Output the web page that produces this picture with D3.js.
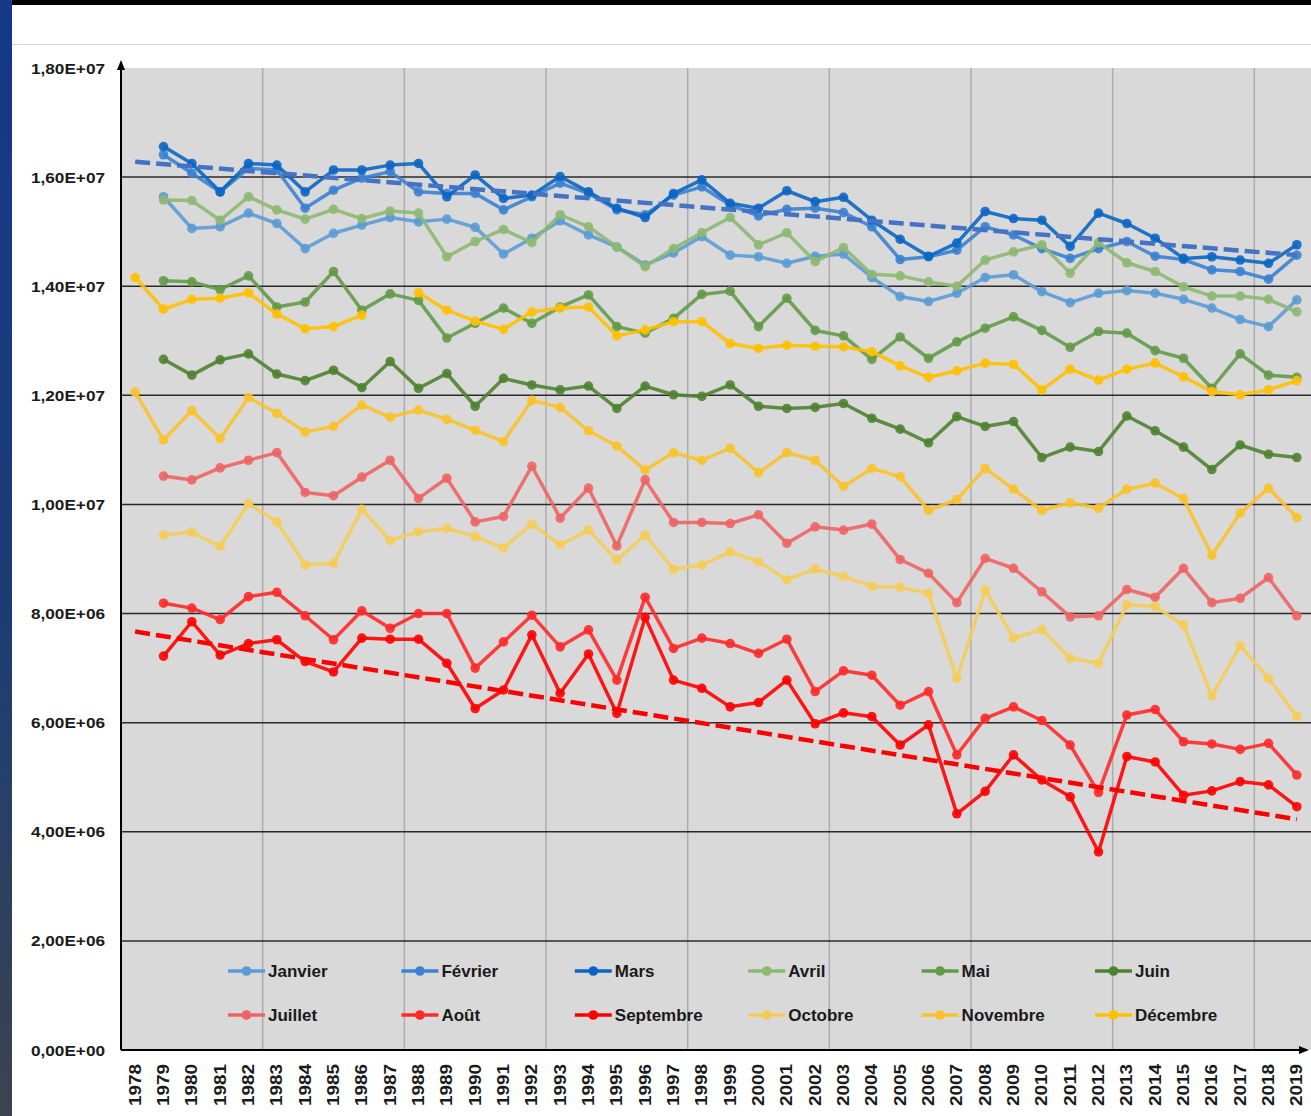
<!DOCTYPE html>
<html>
<head>
<meta charset="utf-8">
<title>Extension mensuelle</title>
<script src="https://d3js.org/d3.v7.min.js"></script>
<style>
  body { margin: 0; background: #fff; }
  svg { display: block; }
</style>
</head>
<body>
<script>
const width = 1311
const height = 1116
const plot = { left: 121, right: 1311, top: 68, bottom: 1050 }
const UNIT = 1e6

const years = ['1978','1979','1980','1981','1982','1983','1984','1985','1986','1987','1988',
  '1989','1990','1991','1992','1993','1994','1995','1996','1997','1998',
  '1999','2000','2001','2002','2003','2004','2005','2006','2007','2008',
  '2009','2010','2011','2012','2013','2014','2015','2016','2017','2018','2019']

const yTickValues = [0, 2e6, 4e6, 6e6, 8e6, 10e6, 12e6, 14e6, 16e6, 18e6]

const months = ['Janvier', 'Février', 'Mars', 'Avril', 'Mai', 'Juin',
  'Juillet', 'Août', 'Septembre', 'Octobre', 'Novembre', 'Décembre']
const colors = ['#5B9BD5', '#3A82D2', '#0B66C3', '#8DB872', '#639A48', '#4E8230',
  '#EE6464', '#FF2A2A', '#FF0000', '#F4CC55', '#F9C22A', '#FFC000']

// valeurs en millions, index 0 = 1978
const janvier = [null,
  15.64, 15.06, 15.09, 15.34, 15.15, 14.69, 14.97, 15.12, 15.26, 15.18,
  15.23, 15.08, 14.59, 14.88, 15.20, 14.94, 14.72, 14.39, 14.61, 14.91,
  14.57, 14.54, 14.42, 14.55, 14.59, 14.16, 13.81, 13.72, 13.87, 14.16,
  14.21, 13.90, 13.70, 13.87, 13.92, 13.87, 13.76, 13.60, 13.39, 13.26, 13.75]
const fevrier = [null,
  16.41, 16.07, 15.73, 16.16, 16.13, 15.43, 15.76, 15.98, 16.10, 15.73,
  15.70, 15.70, 15.40, 15.64, 15.89, 15.70, 15.40, 15.31, 15.67, 15.82,
  15.49, 15.29, 15.41, 15.43, 15.35, 15.09, 14.49, 14.54, 14.66, 15.09,
  14.94, 14.69, 14.51, 14.69, 14.82, 14.55, 14.49, 14.30, 14.27, 14.13, 14.57]
const mars = [null,
  16.56, 16.25, 15.73, 16.25, 16.22, 15.73, 16.13, 16.13, 16.22, 16.25,
  15.64, 16.04, 15.61, 15.67, 16.01, 15.73, 15.43, 15.26, 15.70, 15.95,
  15.52, 15.43, 15.75, 15.55, 15.63, 15.21, 14.86, 14.55, 14.79, 15.37,
  15.24, 15.21, 14.73, 15.34, 15.15, 14.88, 14.51, 14.54, 14.48, 14.42, 14.76]
const avril = [null,
  15.58, 15.57, 15.21, 15.64, 15.40, 15.23, 15.41, 15.24, 15.38, 15.34,
  14.54, 14.82, 15.04, 14.80, 15.31, 15.09, 14.72, 14.36, 14.69, 14.98,
  15.26, 14.76, 14.98, 14.45, 14.71, 14.22, 14.19, 14.08, 14.00, 14.48,
  14.63, 14.76, 14.24, 14.80, 14.43, 14.27, 13.99, 13.82, 13.82, 13.76, 13.53]
const mai = [null,
  14.10, 14.08, 13.94, 14.19, 13.62, 13.71, 14.27, 13.56, 13.86, 13.74,
  13.05, 13.32, 13.60, 13.32, 13.62, 13.84, 13.26, 13.14, 13.41, 13.85,
  13.91, 13.26, 13.78, 13.19, 13.09, 12.66, 13.07, 12.68, 12.98, 13.23,
  13.44, 13.19, 12.88, 13.17, 13.14, 12.82, 12.68, 12.13, 12.76, 12.37, 12.33]
const juin = [null,
  12.66, 12.37, 12.65, 12.76, 12.39, 12.27, 12.46, 12.14, 12.62, 12.13,
  12.40, 11.80, 12.31, 12.19, 12.10, 12.17, 11.76, 12.17, 12.01, 11.98,
  12.19, 11.80, 11.76, 11.78, 11.85, 11.58, 11.38, 11.13, 11.61, 11.43,
  11.52, 10.86, 11.05, 10.97, 11.62, 11.35, 11.05, 10.64, 11.09, 10.92, 10.86]
const juillet = [null,
  10.52, 10.45, 10.67, 10.81, 10.95, 10.22, 10.16, 10.50, 10.81, 10.11,
  10.48, 9.68, 9.78, 10.70, 9.75, 10.30, 9.24, 10.45, 9.67, 9.67,
  9.65, 9.81, 9.29, 9.59, 9.53, 9.64, 8.99, 8.74, 8.20, 9.01,
  8.83, 8.40, 7.94, 7.96, 8.44, 8.30, 8.83, 8.20, 8.28, 8.66, 7.96]
const aout = [null,
  8.19, 8.10, 7.89, 8.31, 8.39, 7.96, 7.52, 8.05, 7.73, 8.00,
  8.00, 7.00, 7.48, 7.97, 7.39, 7.70, 6.78, 8.30, 7.36, 7.55,
  7.45, 7.27, 7.53, 6.57, 6.95, 6.87, 6.32, 6.57, 5.41, 6.08,
  6.29, 6.04, 5.59, 4.72, 6.14, 6.24, 5.65, 5.61, 5.51, 5.62, 5.04]
const septembre = [null,
  7.22, 7.85, 7.24, 7.45, 7.52, 7.12, 6.93, 7.55, 7.53, 7.53,
  7.09, 6.26, 6.60, 7.61, 6.54, 7.26, 6.17, 7.93, 6.78, 6.63,
  6.29, 6.37, 6.78, 5.98, 6.18, 6.11, 5.59, 5.96, 4.33, 4.74,
  5.41, 4.95, 4.64, 3.63, 5.38, 5.28, 4.67, 4.75, 4.92, 4.86, 4.46]
const octobre = [null,
  9.44, 9.49, 9.23, 10.02, 9.68, 8.89, 8.92, 9.91, 9.34, 9.50,
  9.56, 9.41, 9.20, 9.64, 9.26, 9.53, 8.98, 9.44, 8.81, 8.89,
  9.13, 8.95, 8.62, 8.82, 8.68, 8.50, 8.48, 8.37, 6.81, 8.43,
  7.55, 7.71, 7.18, 7.09, 8.16, 8.13, 7.79, 6.49, 7.41, 6.81, 6.12]
const novembre = [12.06,
  11.18, 11.72, 11.21, 11.96, 11.67, 11.33, 11.43, 11.82, 11.60, 11.73,
  11.56, 11.36, 11.15, 11.91, 11.78, 11.35, 11.07, 10.63, 10.95, 10.81,
  11.03, 10.58, 10.95, 10.81, 10.33, 10.66, 10.51, 9.89, 10.09, 10.66,
  10.28, 9.89, 10.03, 9.93, 10.28, 10.39, 10.11, 9.07, 9.84, 10.30, 9.76]
const decembre = [14.16,
  13.58, 13.76, 13.78, 13.88, 13.49, 13.22, 13.26, 13.47, null, 13.88,
  13.56, 13.36, 13.21, 13.53, 13.60, 13.62, 13.09, 13.20, 13.35, 13.35,
  12.95, 12.86, 12.92, 12.90, 12.89, 12.80, 12.54, 12.33, 12.45, 12.59,
  12.57, 12.10, 12.48, 12.28, 12.48, 12.59, 12.34, 12.07, 12.01, 12.10, 12.27]

// tendances (1978 -> 2019)
const trendMars = [16.28, 14.57]
const trendSeptembre = [7.67, 4.23]

const series = [janvier, fevrier, mars, avril, mai, juin,
  juillet, aout, septembre, octobre, novembre, decembre]

const svg = d3.select('body')
  .append('svg')
  .attr('width', width)
  .attr('height', height)
  .style('font-family', '"Liberation Sans", Arial, sans-serif')

// fond de la diapo
const grad = svg.append('defs').append('linearGradient')
  .attr('id', 'side').attr('x1', 0).attr('y1', 0).attr('x2', 0).attr('y2', 1)
grad.append('stop').attr('offset', '0%').attr('stop-color', '#14398a')
grad.append('stop').attr('offset', '55%').attr('stop-color', '#1d3c74')
grad.append('stop').attr('offset', '100%').attr('stop-color', '#3b4350')
svg.append('rect').attr('width', width).attr('height', height).attr('fill', '#fff')
svg.append('rect').attr('width', width).attr('height', 5).attr('fill', '#000')
svg.append('rect').attr('width', 12).attr('height', height).attr('fill', 'url(#side)')
svg.append('line')
  .attr('x1', 12).attr('x2', width).attr('y1', 44.5).attr('y2', 44.5)
  .attr('stroke', '#d6d6d6')

const x = d3.scaleBand().domain(years).range([plot.left, plot.right])
const y = d3.scaleLinear().domain([0, 18e6]).range([plot.bottom, plot.top])
const cx = d => x(d) + x.bandwidth() / 2

// zone de tracé
svg.append('rect')
  .attr('x', plot.left).attr('y', plot.top)
  .attr('width', plot.right - plot.left).attr('height', plot.bottom - plot.top)
  .attr('fill', '#d9d9d9')

// quadrillage vertical, toutes les 5 années
svg.append('g').selectAll('line')
  .data(years.filter((d, i) => i > 0 && i % 5 === 0))
  .join('line')
  .attr('x1', d => x(d)).attr('x2', d => x(d))
  .attr('y1', plot.top).attr('y2', plot.bottom)
  .attr('stroke', '#acacac').attr('stroke-width', 1.5)

// quadrillage horizontal
svg.append('g').selectAll('line')
  .data(yTickValues.filter(d => d > 0 && d < 18e6))
  .join('line')
  .attr('x1', plot.left).attr('x2', plot.right)
  .attr('y1', d => y(d)).attr('y2', d => y(d))
  .attr('stroke', '#2a2a2a').attr('stroke-width', 1.5)

function sci(v) {
  if (v === 0) return '0,00E+00'
  const e = Math.floor(Math.log10(v))
  const m = v / Math.pow(10, e)
  return m.toFixed(2).replace('.', ',') + 'E+' + String(e).padStart(2, '0')
}

// étiquettes de l'axe y
svg.append('g').selectAll('text')
  .data(yTickValues)
  .join('text')
  .attr('x', 105).attr('y', d => y(d))
  .attr('text-anchor', 'end')
  .attr('dominant-baseline', 'central')
  .attr('font-size', 15).attr('font-weight', 'bold')
  .attr('textLength', 74).attr('lengthAdjust', 'spacingAndGlyphs')
  .attr('fill', '#1a1a1a')
  .text(sci)

// étiquettes de l'axe x
svg.append('g').selectAll('text')
  .data(years)
  .join('text')
  .attr('transform', d => `translate(${cx(d)},${plot.bottom + 14}) rotate(-90)`)
  .attr('text-anchor', 'end')
  .attr('dominant-baseline', 'central')
  .attr('font-size', 16).attr('font-weight', 'bold')
  .attr('textLength', 42).attr('lengthAdjust', 'spacingAndGlyphs')
  .attr('fill', '#1a1a1a')
  .text(d => d)

// courbes
const line = d3.line()
  .defined(d => d != null)
  .x((d, i) => cx(years[i]))
  .y(d => y(d * UNIT))

series.forEach((vals, k) => {
  const g = svg.append('g')
  g.append('path')
    .datum(vals)
    .attr('d', line)
    .attr('fill', 'none')
    .attr('stroke', colors[k])
    .attr('stroke-width', 3.5)
    .attr('stroke-linejoin', 'round')
    .attr('stroke-opacity', 0.9)
  g.selectAll('circle')
    .data(vals.map((v, i) => ({ v, i })).filter(d => d.v != null))
    .join('circle')
    .attr('cx', d => cx(years[d.i]))
    .attr('cy', d => y(d.v * UNIT))
    .attr('r', 4.8)
    .attr('fill', colors[k])
    .attr('fill-opacity', 0.9)
})

// tendances linéaires
const trendLine = d3.line()
  .x((d, i) => cx(i === 0 ? years[0] : years[years.length - 1]))
  .y(d => y(d * UNIT))

;[[trendMars, '#4472C4'], [trendSeptembre, '#FF0000']].forEach(([t, c]) => {
  svg.append('path')
    .datum(t)
    .attr('d', trendLine)
    .attr('fill', 'none')
    .attr('stroke', c)
    .attr('stroke-width', 4.5)
    .attr('stroke-dasharray', '15,6')
})

// axes avec flèches
svg.append('line')
  .attr('x1', plot.left).attr('x2', plot.left)
  .attr('y1', plot.bottom).attr('y2', plot.top - 4)
  .attr('stroke', '#000').attr('stroke-width', 2)
svg.append('path')
  .attr('d', `M${plot.left - 4},${plot.top + 2}L${plot.left},${plot.top - 8}L${plot.left + 4},${plot.top + 2}Z`)
  .attr('fill', '#000')
svg.append('line')
  .attr('x1', plot.left).attr('x2', plot.right - 6)
  .attr('y1', plot.bottom).attr('y2', plot.bottom)
  .attr('stroke', '#000').attr('stroke-width', 2)
svg.append('path')
  .attr('d', `M${plot.right - 12},${plot.bottom - 4}L${plot.right - 2},${plot.bottom}L${plot.right - 12},${plot.bottom + 4}Z`)
  .attr('fill', '#000')

// légende
const legend = svg.append('g')
months.forEach((m, k) => {
  const lx = 228 + (k % 6) * 173.4
  const ly = k < 6 ? 971 : 1015
  const item = legend.append('g').attr('transform', `translate(${lx},${ly})`)
  item.append('line')
    .attr('x1', 0).attr('x2', 37)
    .attr('stroke', colors[k]).attr('stroke-width', 3.5)
  item.append('circle')
    .attr('cx', 18.5).attr('r', 4.8).attr('fill', colors[k])
  item.append('text')
    .attr('x', 40)
    .attr('dominant-baseline', 'central')
    .attr('font-size', 17).attr('font-weight', 'bold')
    .attr('fill', '#1a1a1a')
    .text(m)
})
</script>
</body>
</html>
